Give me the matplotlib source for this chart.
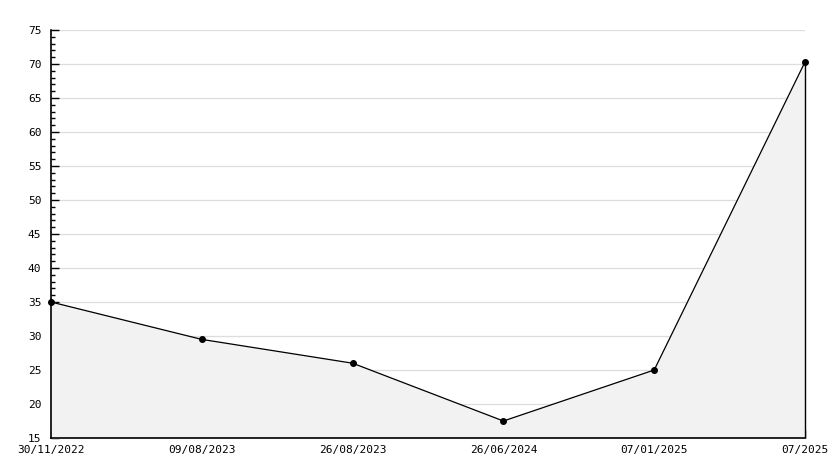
import matplotlib
matplotlib.use("Agg")
import matplotlib.pyplot as plt
from matplotlib.ticker import MultipleLocator

dates = ["30/11/2022", "09/08/2023", "26/08/2023", "26/06/2024", "07/01/2025", "07/2025"]
values = [35.0, 29.5, 26.0, 17.5, 25.0, 70.3]

fig = plt.figure(figsize=(8.34, 4.68), dpi=100)
ax = fig.add_axes([51 / 834, 30 / 468, 754 / 834, 408 / 468])

x = list(range(len(dates)))
ax.fill_between(x, values, 15, color="#f2f2f2", zorder=1)
ax.plot(x, values, color="black", lw=0.9, zorder=3, clip_on=False)
ax.plot(x, values, "o", color="black", ms=4, zorder=4, clip_on=False)
ax.vlines(x[-1], 15, values[-1], color="black", lw=1.0, zorder=3, clip_on=False)

ax.set_xlim(0, len(dates) - 1)
ax.set_ylim(15, 75)
ax.yaxis.set_major_locator(MultipleLocator(5))
ax.yaxis.set_minor_locator(MultipleLocator(1))
ax.set_xticks(x)
ax.set_xticklabels(dates)
ax.grid(axis="y", color="#dddddd", lw=0.9, zorder=0)
ax.set_axisbelow(True)

for side in ("top", "right"):
    ax.spines[side].set_visible(False)
for side in ("left", "bottom"):
    ax.spines[side].set_linewidth(1.2)

ax.tick_params(axis="y", which="major", direction="in", length=6, width=1, labelsize=8, pad=7)
ax.tick_params(axis="y", which="minor", direction="in", length=3, width=1)
ax.tick_params(axis="x", direction="in", length=6, width=1, labelsize=8, pad=5)
for lab in ax.get_xticklabels() + ax.get_yticklabels():
    lab.set_family("DejaVu Sans Mono")
# the lowest y label sits just above the x labels, as in the original
ax.get_yticklabels()[0].set_verticalalignment("bottom")

fig.savefig("out.png", dpi=100)
